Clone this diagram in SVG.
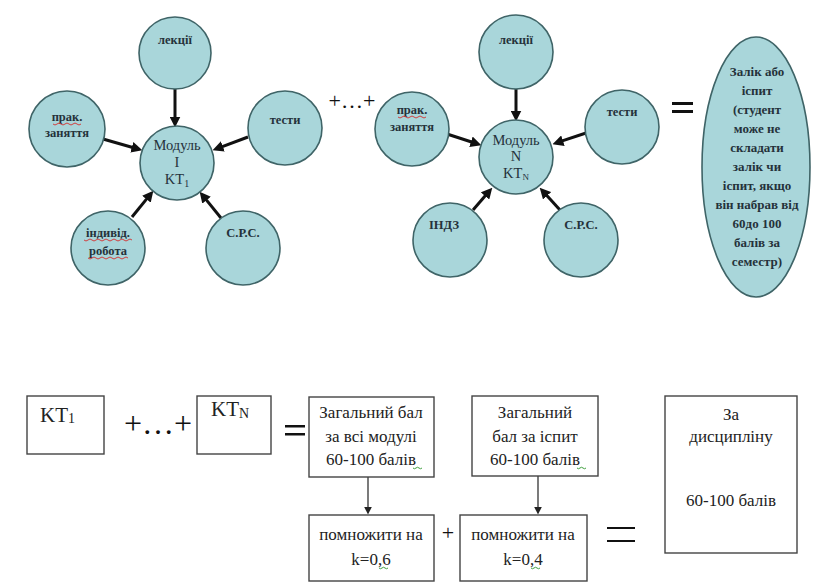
<svg xmlns="http://www.w3.org/2000/svg" width="835" height="583" viewBox="0 0 835 583">
<style>
.node{fill:#a9d6da;stroke:#3f6467;stroke-width:1.6}
.ct{font-family:"Liberation Serif","DejaVu Serif",serif;font-size:12.5px;font-weight:bold;fill:#25323a;text-anchor:middle}
.mt{font-family:"Liberation Serif","DejaVu Serif",serif;font-size:14.5px;fill:#25323a;text-anchor:middle}
.et{font-family:"Liberation Serif","DejaVu Serif",serif;font-size:13px;font-weight:bold;fill:#25323a;text-anchor:middle}
.box{fill:#ffffff;stroke:#444;stroke-width:1.4}
.bt{font-family:"Liberation Serif","DejaVu Serif",serif;font-size:17px;fill:#222;text-anchor:middle}
.kt{font-family:"Liberation Serif","DejaVu Serif",serif;font-size:21px;fill:#222;text-anchor:start}
.op{font-family:"Liberation Serif","DejaVu Serif",serif;fill:#111;text-anchor:middle}
.thick{stroke:#111;stroke-width:3;fill:none;marker-end:url(#ah)}
.thin{stroke:#222;stroke-width:1.2;fill:none;marker-end:url(#ahs)}
.red{stroke:#d04040;stroke-width:1;fill:none}
.grn{stroke:#40a040;stroke-width:1;fill:none}
</style>
<defs>
<marker id="ah" viewBox="0 0 10 10" markerUnits="userSpaceOnUse" markerWidth="11" markerHeight="11" refX="5" refY="5" orient="auto">
<path d="M0,0 L10,5 L0,10 z" fill="#111"/>
</marker>
<marker id="ahs" viewBox="0 0 10 10" markerUnits="userSpaceOnUse" markerWidth="8" markerHeight="8" refX="3" refY="5" orient="auto">
<path d="M0,0 L10,5 L0,10 z" fill="#222"/>
</marker>
</defs>
<rect width="835" height="583" fill="#ffffff"/>

<g id="connectors">
<line class="thick" x1="175" y1="89" x2="175" y2="122"/>
<line class="thick" x1="103" y1="139" x2="137.1" y2="148.8"/>
<line class="thick" x1="248" y1="137" x2="217.7" y2="148.4"/>
<line class="thick" x1="132" y1="217" x2="149.9" y2="194.9"/>
<line class="thick" x1="221" y1="218" x2="203.1" y2="195.9"/>
<line class="thick" x1="516" y1="89" x2="516" y2="116"/>
<line class="thick" x1="447" y1="134" x2="476.2" y2="143.5"/>
<line class="thick" x1="586" y1="133" x2="557.7" y2="142.4"/>
<line class="thick" x1="473" y1="210" x2="488.7" y2="191.8"/>
<line class="thick" x1="560" y1="210" x2="543.4" y2="191.7"/>
<line class="thin" x1="368" y1="477" x2="368" y2="509"/>
<line class="thin" x1="538" y1="476" x2="538" y2="509"/>
</g>

<g id="m1-lectures"><circle class="node" cx="175" cy="53" r="36"/><text class="ct" x="175" y="44">лекції</text></g>
<g id="m1-practice"><circle class="node" cx="67" cy="129" r="38"/><text class="ct" x="67" y="121">прак.</text><text class="ct" x="67" y="137">заняття</text></g>
<g id="m1-tests"><circle class="node" cx="285" cy="128" r="37"/><text class="ct" x="285" y="124">тести</text></g>
<g id="m1-module"><circle class="node" cx="177" cy="163" r="37"/><text class="mt" x="177" y="150">Модуль</text><text class="mt" x="177" y="167">I</text><text class="mt" x="177" y="184">KT<tspan font-size="10" dy="3">1</tspan></text></g>
<g id="m1-individual"><circle class="node" cx="108" cy="248" r="37"/><text class="ct" x="108" y="237">індивід.</text><text class="ct" x="108" y="255">робота</text></g>
<g id="m1-srs"><circle class="node" cx="243" cy="248" r="37"/><text class="ct" x="243" y="237">С.Р.С.</text></g>

<g id="plus-dots"><text class="op" x="352" y="108" font-size="22">+…+</text></g>

<g id="mn-lectures"><circle class="node" cx="516" cy="52" r="37"/><text class="ct" x="516" y="44">лекції</text></g>
<g id="mn-practice"><circle class="node" cx="412" cy="129" r="37"/><text class="ct" x="412" y="114">прак.</text><text class="ct" x="412" y="131">заняття</text></g>
<g id="mn-tests"><circle class="node" cx="622" cy="127" r="37"/><text class="ct" x="622" y="116">тести</text></g>
<g id="mn-module"><circle class="node" cx="516" cy="157" r="37"/><text class="mt" x="516" y="145">Модуль</text><text class="mt" x="516" y="161">N</text><text class="mt" x="516" y="178">KT<tspan font-size="9" dy="2">N</tspan></text></g>
<g id="mn-indz"><circle class="node" cx="450" cy="240" r="37"/><text class="ct" x="444" y="229">ІНДЗ</text></g>
<g id="mn-srs"><circle class="node" cx="581" cy="240" r="37"/><text class="ct" x="581" y="229">С.Р.С.</text></g>

<g id="eq-top"><rect x="672" y="102" width="21" height="3" fill="#111"/><rect x="672" y="110" width="21" height="3" fill="#111"/></g>

<g id="exam">
<ellipse class="node" cx="756" cy="167" rx="54" ry="130"/>
<text class="et" x="757" y="76">Залік або</text>
<text class="et" x="757" y="95">іспит</text>
<text class="et" x="757" y="114">(студент</text>
<text class="et" x="757" y="133">може не</text>
<text class="et" x="757" y="152">складати</text>
<text class="et" x="757" y="171">залік чи</text>
<text class="et" x="757" y="190">іспит, якщо</text>
<text class="et" x="757" y="209">він набрав від</text>
<text class="et" x="757" y="228">60до 100</text>
<text class="et" x="757" y="247">балів за</text>
<text class="et" x="757" y="266">семестр)</text>
</g>

<g id="kt1"><rect class="box" x="27" y="396" width="77" height="58"/><text class="kt" x="40" y="422">KT<tspan font-size="14" dy="1">1</tspan></text></g>
<g id="plus-dots-bottom"><text class="op" x="158" y="434" font-size="32">+…+</text></g>
<g id="ktn"><rect class="box" x="197" y="396" width="74" height="58"/><text class="kt" x="211" y="416">KT<tspan font-size="14" dy="2">N</tspan></text></g>
<g id="eq-b1"><rect x="285" y="425" width="20" height="2.5" fill="#111"/><rect x="285" y="433" width="20" height="2.5" fill="#111"/></g>

<g id="total-modules"><rect class="box" x="309" y="397" width="125" height="80"/><text class="bt" x="371" y="418">Загальний бал</text><text class="bt" x="371" y="442">за всі модулі</text><text class="bt" x="371" y="465">60-100 балів</text></g>
<g id="total-exam"><rect class="box" x="472" y="396" width="126" height="80"/><text class="bt" x="535" y="418">Загальний</text><text class="bt" x="535" y="442">бал за іспит</text><text class="bt" x="535" y="465">60-100 балів</text></g>
<g id="mult-06"><rect class="box" x="309" y="515" width="125" height="66"/><text class="bt" x="371" y="540">помножити на</text><text class="bt" x="371" y="565">k=0,6</text></g>
<g id="plus-b"><text class="op" x="448" y="540" font-size="22">+</text></g>
<g id="mult-04"><rect class="box" x="460" y="515" width="127" height="66"/><text class="bt" x="523" y="540">помножити на</text><text class="bt" x="523" y="565">k=0,4</text></g>
<g id="eq-b2"><rect x="607" y="527" width="28" height="2" fill="#111"/><rect x="607" y="540" width="28" height="2" fill="#111"/></g>
<g id="discipline"><rect class="box" x="665" y="396" width="132" height="157"/><text class="bt" x="731" y="420">За</text><text class="bt" x="731" y="442">дисципліну</text><text class="bt" x="731" y="506">60-100 балів</text></g>

<g id="squiggles">
<path class="red" d="M53,124 q2,2 4,0 t4,0 t4,0 t4,0 t4,0 t4,0 t4,0"/>
<path class="red" d="M398,117 q2,2 4,0 t4,0 t4,0 t4,0 t4,0 t4,0 t4,0"/>
<path class="red" d="M84,240 q2,2 4,0 t4,0 t4,0 t4,0 t4,0 t4,0 t4,0 t4,0 t4,0 t4,0 t4,0 t4,0"/>
<path class="red" d="M88,258 q2,2 4,0 t4,0 t4,0 t4,0 t4,0 t4,0 t4,0 t4,0 t4,0 t4,0"/>
<path class="grn" d="M413,468 q1.5,1.5 3,0 t3,0 t3,0"/>
<path class="grn" d="M577,468 q1.5,1.5 3,0 t3,0 t3,0"/>
<path class="grn" d="M379,568 q1.5,1.5 3,0 t3,0 t3,0"/>
<path class="grn" d="M531,568 q1.5,1.5 3,0 t3,0 t3,0"/>
</g>
</svg>
